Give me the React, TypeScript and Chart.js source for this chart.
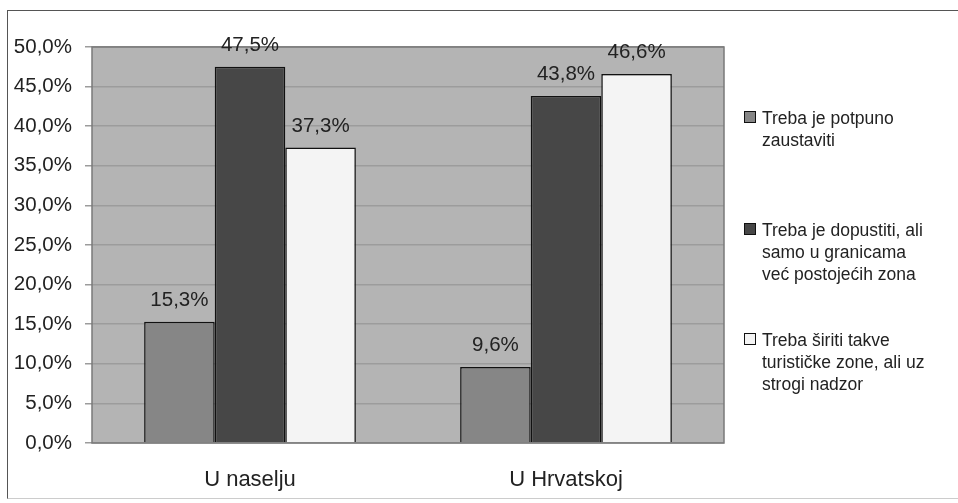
import React, { useEffect, useRef } from "react";
import { Chart, registerables } from "chart.js";

Chart.register(...registerables);

const categories = ["U naselju", "U Hrvatskoj"];
const seriesNames = [
  ["Treba je potpuno", "zaustaviti"],
  ["Treba je dopustiti, ali", "samo u granicama", "već postojećih zona"],
  ["Treba širiti takve", "turističke zone, ali uz", "strogi nadzor"],
];
const seriesStop = [15.3, 9.6];
const seriesAllow = [47.5, 43.8];
const seriesExpand = [37.3, 46.6];
const seriesColors = ["#868686", "#474747", "#f4f4f4"];
const yTicks = [0, 5, 10, 15, 20, 25, 30, 35, 40, 45, 50];

const FONT = "'Liberation Sans', Arial, sans-serif";
const fmt = (v: number) => v.toFixed(1).replace(".", ",") + "%";

export default function App() {
  const ref = useRef<HTMLCanvasElement | null>(null);

  useEffect(() => {
    if (!ref.current) return;
    const bgPlugin = {
      id: "plotBg",
      beforeDraw(chart: any) {
        const { ctx, chartArea: a } = chart;
        ctx.save();
        ctx.fillStyle = "#b4b4b4";
        ctx.fillRect(a.left, a.top, a.right - a.left, a.bottom - a.top);
        ctx.restore();
      },
      afterDatasetsDraw(chart: any) {
        const { ctx, chartArea: a } = chart;
        ctx.save();
        ctx.strokeStyle = "#7a7a7a";
        ctx.lineWidth = 1.5;
        ctx.strokeRect(a.left, a.top, a.right - a.left, a.bottom - a.top);
        ctx.fillStyle = "#222";
        ctx.font = `20.5px ${FONT}`;
        ctx.textAlign = "center";
        ctx.textBaseline = "alphabetic";
        chart.data.datasets.forEach((ds: any, i: number) => {
          const meta = chart.getDatasetMeta(i);
          meta.data.forEach((bar: any, j: number) => {
            ctx.fillText(fmt(ds.data[j]), bar.x, bar.y - 16);
          });
        });
        ctx.restore();
      },
    };

    const chart = new Chart(ref.current, {
      type: "bar",
      data: {
        labels: categories,
        datasets: [seriesStop, seriesAllow, seriesExpand].map((d, i) => ({
          label: seriesNames[i].join(" "),
          data: d,
          backgroundColor: seriesColors[i],
          borderColor: "#111",
          borderWidth: 1.5,
          categoryPercentage: 0.67,
          barPercentage: 1,
        })),
      },
      options: {
        animation: false,
        responsive: false,
        maintainAspectRatio: false,
        layout: { padding: { left: 0, top: 47, right: 234, bottom: 0 } },
        plugins: { legend: { display: false }, tooltip: { enabled: false } },
        scales: {
          x: {
            grid: { display: false },
            border: { display: false },
            ticks: { color: "#222", font: { family: FONT, size: 22 }, padding: 16 },
            afterFit: (s: any) => { s.height = 60; },
          },
          y: {
            min: 0,
            max: 50,
            afterBuildTicks: (s: any) => { s.ticks = yTicks.map((v) => ({ value: v })); },
            grid: { color: "#9c9c9c", lineWidth: 1.5, tickLength: 7 },
            border: { display: false },
            ticks: {
              color: "#222",
              font: { family: FONT, size: 20.5 },
              padding: 13,
              callback: (v: any) => fmt(Number(v)),
            },
            afterFit: (s: any) => { s.width = 92; },
          },
        },
      },
      plugins: [bgPlugin],
    });
    return () => chart.destroy();
  }, []);

  const legendTops = [107, 219, 329];

  return (
    <div style={{ position: "absolute", left: 0, top: 0, width: 958, height: 503, background: "#fff", overflow: "hidden" }}>
      <div style={{ position: "absolute", left: 7, top: 10, width: 960, height: 489, borderTop: "1.5px solid #555", borderLeft: "1.5px solid #555", borderBottom: "1px solid #ccc", boxSizing: "border-box" }} />
      <canvas ref={ref} width={958} height={503} style={{ position: "absolute", left: 0, top: 0 }} />
      {seriesNames.map((lines, i) => (
        <div key={i} style={{ position: "absolute", left: 744, top: legendTops[i], fontFamily: FONT, fontSize: 17.5, lineHeight: "22px", color: "#222" }}>
          <div style={{ position: "absolute", left: 0, top: 4, width: 10, height: 10, background: seriesColors[i], border: "1.5px solid #111" }} />
          <div style={{ marginLeft: 18, whiteSpace: "nowrap" }}>
            {lines.map((l, k) => (<div key={k}>{l}</div>))}
          </div>
        </div>
      ))}
    </div>
  );
}
